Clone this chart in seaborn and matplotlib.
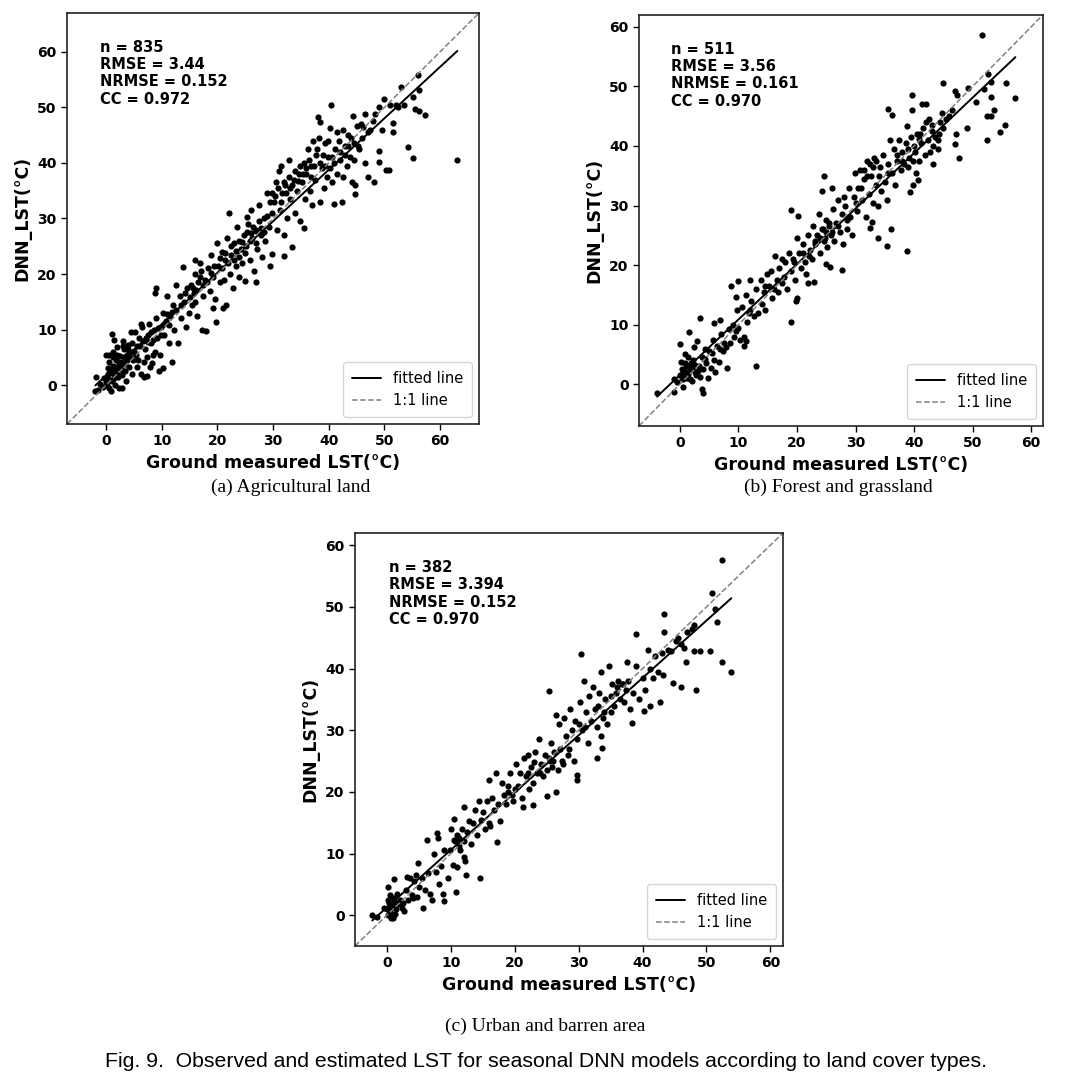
import numpy as np
import seaborn as sns
import matplotlib.pyplot as plt

sns.set_style("ticks")
plt.rcParams["font.family"] = ["DejaVu Sans"]
plt.rcParams.update({"text.color": "black", "axes.labelcolor": "black",
                     "xtick.color": "black", "ytick.color": "black"})

# (ground measured, DNN estimated), one list per land cover
agri_pts = [
    (-1.5, -0.8), (-1.0, 0.2), (-0.5, -0.3), (0.0, 0.5), (0.2, 1.5), (0.5, -0.5), (0.8, 2.5), (1.0, 0.8),
    (1.2, 3.5), (1.5, 1.2), (1.8, 4.5), (0.3, 3.0), (-0.3, 1.2), (0.6, 4.2), (1.3, 5.0), (1.9, 2.0),
    (0.9, -1.0), (1.6, 0.0), (0.0, 5.5), (-1.8, 1.5), (1.0, 9.2), (1.5, 8.2), (-1.9, -1.0), (0.5, 5.5),
    (2.2, 3.0), (2.5, 5.2), (2.8, 1.8), (3.0, 4.0), (3.3, 6.5), (3.5, 2.5), (3.8, 5.5), (4.0, 7.2),
    (4.2, 3.2), (4.5, 9.5), (4.8, 6.0), (2.4, -0.5), (2.8, -0.5), (3.1, 8.0), (4.6, 2.0), (2.0, 6.8),
    (3.6, 0.8), (4.9, 4.5), (5.2, 9.5), (5.5, 7.0), (5.8, 4.5), (6.0, 8.5), (6.3, 2.0), (6.5, 10.5),
    (6.8, 1.5), (7.0, 6.5), (7.3, 5.0), (7.5, 9.0), (7.8, 11.0), (8.0, 7.5), (8.3, 4.0), (8.6, 10.0),
    (8.8, 6.0), (9.0, 12.0), (9.2, 8.5), (9.5, 2.5), (9.7, 5.5), (9.9, 10.5), (9.0, 17.5), (8.8, 16.5),
    (7.4, 1.7), (6.2, 11.0), (5.6, 3.2), (10.2, 13.0), (10.5, 9.0), (10.8, 11.5), (11.0, 16.0), (11.3, 7.5),
    (11.5, 12.5), (11.8, 4.1), (12.0, 14.5), (12.3, 10.0), (12.6, 13.5), (12.9, 7.6), (13.2, 16.0), (13.5, 12.0),
    (13.8, 21.3), (14.0, 15.0), (14.3, 10.5), (14.6, 17.5), (14.9, 13.0), (10.3, 3.0), (12.5, 18.0), (15.2, 18.0),
    (15.5, 14.5), (15.8, 16.5), (16.0, 20.0), (16.3, 12.5), (16.6, 18.5), (16.9, 22.0), (17.2, 10.0), (17.5, 16.0),
    (17.8, 19.0), (18.0, 9.8), (18.3, 21.0), (18.6, 17.0), (18.9, 23.5), (19.2, 19.5), (19.5, 15.5), (19.7, 11.3),
    (19.3, 13.8), (19.9, 25.5), (15.9, 22.5), (20.2, 21.5), (20.5, 18.5), (20.8, 24.0), (21.0, 13.8), (21.3, 22.5),
    (21.5, 14.5), (21.8, 26.5), (22.0, 31.0), (22.2, 20.0), (22.5, 23.5), (22.8, 17.5), (23.0, 25.5), (23.3, 21.5),
    (23.6, 28.5), (23.9, 19.5), (24.2, 24.5), (24.5, 22.0), (24.8, 27.0), (24.9, 18.8), (21.2, 19.0), (23.8, 23.0),
    (25.2, 25.0), (25.5, 29.0), (25.8, 22.5), (26.0, 31.5), (26.3, 26.5), (26.6, 20.5), (26.9, 28.0), (27.2, 24.5),
    (27.5, 32.5), (27.8, 27.0), (28.0, 23.0), (28.3, 30.0), (28.6, 26.0), (28.9, 34.5), (29.2, 28.5), (29.5, 21.5),
    (29.8, 31.0), (29.9, 23.6), (27.0, 18.5), (25.3, 30.2), (30.2, 33.0), (30.5, 36.5), (30.8, 28.0), (31.0, 38.5),
    (31.3, 31.5), (31.6, 34.5), (31.9, 27.0), (32.0, 23.2), (32.2, 36.0), (32.5, 30.0), (32.8, 40.5), (33.1, 33.5),
    (33.4, 24.8), (33.7, 37.0), (34.0, 31.0), (34.3, 35.0), (34.6, 38.0), (34.9, 29.5), (35.5, 28.2), (31.5, 39.5),
    (33.0, 35.5), (35.2, 36.5), (35.5, 40.0), (35.8, 33.5), (36.0, 38.0), (36.3, 42.5), (36.6, 35.0), (36.9, 39.5),
    (37.2, 44.0), (37.5, 37.0), (37.8, 41.5), (38.0, 48.3), (38.4, 47.3), (38.5, 33.0), (38.8, 39.0), (39.1, 35.5),
    (39.4, 43.5), (39.7, 37.5), (39.9, 41.0), (38.2, 44.5), (37.0, 32.5), (40.2, 39.0), (40.4, 50.4), (40.3, 46.2),
    (40.6, 36.5), (40.9, 32.6), (41.2, 42.5), (41.5, 38.0), (41.8, 44.0), (42.1, 40.5), (42.3, 33.0), (42.6, 37.5),
    (42.9, 43.0), (43.2, 39.5), (43.5, 45.0), (43.8, 41.0), (44.1, 36.5), (44.3, 48.4), (44.8, 34.4), (44.8, 36.0),
    (44.6, 43.5), (45.0, 46.6), (45.5, 42.5), (46.0, 44.5), (46.5, 48.8), (46.5, 40.0), (47.0, 37.4), (47.5, 46.0),
    (48.2, 36.5), (48.4, 48.8), (49.0, 42.1), (49.0, 40.2), (49.0, 50.0), (49.5, 46.0), (50.0, 51.5), (50.3, 38.7),
    (50.8, 38.7), (51.6, 47.2), (51.6, 45.5), (52.9, 53.7), (52.0, 50.5), (53.6, 50.5), (54.3, 42.9), (55.2, 40.9),
    (55.5, 49.7), (55.2, 51.8), (56.2, 53.1), (56.0, 55.8), (56.2, 49.4), (57.3, 48.7), (63.1, 40.6),
    (0.2, 0.0), (0.7, 1.0), (1.1, 2.2), (1.4, 2.8), (1.7, 3.2), (2.1, 1.5), (2.3, 4.2), (2.6, 3.5),
    (2.9, 2.8), (3.2, 5.0), (3.4, 3.8), (3.7, 4.6), (4.1, 5.8), (4.4, 4.8), (4.7, 7.5), (0.4, 2.0),
    (1.2, 6.0), (2.0, 5.5), (3.0, 7.0), (4.0, 6.5), (5.1, 6.2), (5.4, 5.5), (6.1, 7.0), (6.6, 8.0),
    (7.1, 8.5), (7.6, 7.8), (8.1, 9.5), (8.5, 8.2), (9.3, 10.2), (9.8, 9.0), (10.4, 11.0), (10.9, 12.8),
    (11.4, 10.8), (11.9, 13.2), (6.9, 4.2), (8.4, 5.5), (7.9, 3.2), (13.4, 14.5), (14.2, 16.5), (15.0, 15.8),
    (15.6, 17.5), (16.2, 17.2), (16.8, 19.5), (17.4, 18.0), (18.1, 18.5), (18.8, 20.2), (19.4, 21.5), (17.0, 20.5),
    (16.0, 15.0), (20.4, 22.8), (20.9, 21.0), (21.4, 23.8), (21.9, 22.0), (22.4, 25.0), (22.9, 22.5), (23.4, 24.2),
    (23.9, 26.0), (24.4, 25.8), (24.9, 23.8), (25.4, 27.5), (25.9, 26.0), (26.4, 28.5), (26.9, 25.5), (27.4, 29.5),
    (27.9, 28.2), (28.4, 27.5), (28.9, 30.5), (29.4, 33.0), (29.9, 34.5), (26.0, 27.3), (27.0, 27.8), (30.4, 34.0),
    (30.9, 35.5), (31.4, 33.0), (31.9, 36.5), (32.4, 34.5), (32.9, 37.5), (33.4, 36.0), (33.9, 38.5), (34.4, 36.8),
    (34.9, 39.5), (35.4, 38.0), (35.9, 39.0), (36.4, 40.5), (36.9, 37.5), (37.4, 39.5), (37.9, 42.5), (38.4, 40.0),
    (38.9, 41.5), (39.4, 39.5), (39.9, 44.0), (40.5, 41.0), (41.0, 40.0), (41.5, 45.5), (42.0, 42.0), (42.5, 46.0),
    (43.0, 41.5), (43.5, 43.0), (44.0, 44.5), (44.5, 40.5), (45.2, 43.0), (45.8, 47.0), (46.2, 46.5), (47.0, 45.5),
    (48.0, 47.5), (52.5, 50.0), (51.0, 50.5),
]

forest_pts = [
    (51.6, 58.6), (57.3, 48.0), (55.7, 50.6), (55.6, 43.5), (54.6, 42.3), (53.2, 45.0), (53.7, 46.0), (52.5, 41.0),
    (52.4, 45.0), (53.1, 48.2), (53.1, 50.7), (52.6, 52.0), (52.0, 49.5), (50.6, 47.3), (49.1, 43.0), (49.2, 49.8),
    (47.6, 38.0), (47.4, 48.5), (47.0, 49.3), (47.2, 42.0), (46.9, 40.3), (45.0, 50.6), (44.7, 45.6), (43.3, 37.0),
    (42.5, 44.5), (42.0, 47.0), (41.3, 47.0), (40.9, 41.2), (40.6, 34.3), (40.3, 35.5), (39.8, 33.5), (39.3, 32.2),
    (38.7, 22.3), (39.6, 48.5), (39.7, 46.0), (38.8, 43.3), (36.2, 45.2), (35.6, 46.2), (35.4, 23.2), (36.1, 26.0),
    (33.9, 24.5), (32.8, 27.2), (32.5, 26.3), (27.6, 19.2), (25.0, 20.2), (25.6, 19.7), (22.9, 17.2), (18.9, 10.5),
    (13.0, 3.1), (12.0, 17.5), (10.0, 17.4), (8.8, 16.5), (9.5, 14.7), (3.4, 11.2), (5.9, 10.2), (6.9, 10.8),
    (1.6, 8.8), (-3.9, -1.4), (-1.0, -1.3), (4.0, -1.5), (3.8, -0.8), (0.0, 6.7), (20.0, 14.5), (19.9, 14.0),
    (19.0, 29.2), (20.1, 28.2), (24.6, 35.0), (24.3, 32.5), (21.8, 17.0), (26.0, 33.0),
    (-0.5, 0.3), (0.0, 1.5), (0.3, 2.5), (0.5, 0.8), (0.8, 3.5), (1.0, 2.0), (1.2, 1.0), (1.5, 3.0),
    (1.8, 2.4), (2.0, 0.5), (2.2, 4.0), (2.5, 2.0), (0.2, 3.8), (0.6, -0.5), (1.4, 4.5), (-1.0, 0.8),
    (2.8, 1.5), (2.4, 6.3), (2.9, 7.2), (0.9, 5.0), (3.2, 3.0), (3.5, 1.2), (3.8, 4.5), (4.0, 2.5),
    (4.2, 6.0), (4.5, 3.5), (4.8, 1.0), (5.0, 5.5), (5.3, 2.8), (5.6, 7.5), (5.8, 4.0), (6.0, 2.0),
    (6.3, 6.5), (6.6, 3.8), (7.0, 8.5), (7.3, 5.5), (7.6, 7.0), (8.0, 2.7), (8.3, 9.2), (7.8, 6.2),
    (8.6, 7.0), (9.0, 10.0), (9.3, 8.0), (9.7, 12.5), (10.0, 9.5), (10.3, 7.5), (10.6, 13.0), (11.0, 6.5),
    (11.3, 15.0), (11.5, 10.5), (11.8, 12.0), (12.2, 14.0), (12.6, 11.5), (13.0, 16.0), (13.4, 12.0), (13.8, 17.5),
    (14.0, 13.5), (14.3, 15.5), (14.6, 12.5), (14.9, 18.5), (11.0, 8.0), (11.2, 7.2), (15.2, 16.5), (15.5, 19.0),
    (15.8, 14.5), (16.2, 21.5), (16.5, 17.5), (16.8, 15.5), (17.0, 19.5), (17.4, 21.0), (17.7, 18.0), (18.0, 20.5),
    (18.3, 16.0), (18.6, 22.0), (19.0, 19.0), (19.3, 21.0), (19.6, 17.5), (20.0, 24.5), (20.4, 22.0), (20.7, 19.5),
    (21.0, 23.5), (21.3, 20.5), (21.6, 18.5), (21.9, 25.0), (22.2, 22.5), (22.5, 21.0), (22.8, 26.5), (23.1, 23.5),
    (23.4, 25.0), (23.7, 28.5), (24.0, 22.0), (24.3, 26.0), (24.6, 24.0), (24.9, 27.5), (25.2, 23.0), (25.5, 26.5),
    (25.8, 25.0), (26.1, 29.5), (26.4, 24.0), (26.7, 27.0), (27.0, 31.0), (27.3, 25.5), (27.6, 28.5), (27.9, 23.5),
    (28.2, 30.0), (28.5, 26.0), (28.8, 33.0), (29.1, 28.0), (29.4, 25.0), (29.7, 31.5), (29.9, 35.5), (28.0, 31.5),
    (30.2, 29.0), (30.5, 33.0), (30.8, 36.0), (31.1, 31.0), (31.4, 34.5), (31.7, 28.0), (32.0, 37.5), (32.3, 32.0),
    (32.6, 35.0), (32.9, 30.5), (33.2, 38.0), (33.5, 33.5), (33.8, 30.0), (34.1, 36.5), (34.4, 32.5), (34.7, 38.5),
    (35.0, 34.0), (35.3, 31.0), (35.6, 37.0), (35.9, 41.0), (36.2, 35.5), (36.5, 39.5), (36.8, 33.5), (37.1, 37.5),
    (37.4, 41.0), (37.7, 36.0), (38.0, 39.0), (38.3, 37.0), (38.6, 40.5), (38.9, 36.5), (39.2, 38.0), (39.5, 41.5),
    (39.8, 37.5), (40.2, 39.0), (40.5, 42.0), (40.8, 37.5), (41.2, 40.5), (41.5, 43.0), (41.8, 38.5), (42.1, 44.0),
    (42.4, 41.0), (42.7, 39.0), (43.0, 42.5), (43.3, 40.0), (43.6, 41.5), (44.0, 39.5), (44.3, 42.0), (45.0, 43.0),
    (45.5, 44.5), (46.0, 45.0), (46.5, 46.0),
    (0.3, 1.0), (0.7, 2.2), (1.1, 3.2), (1.3, 1.8), (1.7, 0.8), (2.1, 2.8), (2.6, 3.2), (0.5, 2.0),
    (1.0, 1.5), (1.9, 3.6), (3.0, 2.2), (4.3, 4.2), (5.5, 5.2), (6.8, 6.0), (9.5, 9.0), (12.0, 12.5),
    (14.5, 16.5), (16.0, 16.0), (17.5, 17.0), (19.5, 20.5), (21.0, 22.0), (22.0, 21.5), (23.0, 24.0), (24.0, 24.5),
    (24.5, 26.0), (25.0, 25.5), (24.8, 24.5), (25.5, 27.0), (26.0, 25.5), (27.0, 26.5), (28.5, 27.5), (30.0, 30.5),
    (31.0, 33.0), (31.5, 36.0), (32.0, 35.0), (32.5, 37.0), (33.0, 36.5), (33.5, 37.5), (34.0, 35.0), (35.5, 35.5),
    (37.0, 38.5), (38.0, 37.5), (39.0, 39.5), (40.0, 40.0), (41.0, 42.0), (43.0, 43.5), (44.0, 41.0), (44.5, 44.0),
]

urban_pts = [
    (52.5, 57.6), (50.8, 52.3), (51.3, 49.6), (51.6, 47.6), (53.9, 39.5), (52.4, 41.0), (50.6, 42.8), (49.0, 42.8),
    (48.0, 42.8), (48.3, 36.5), (47.7, 46.5), (48.0, 47.0), (46.8, 41.0), (46.5, 43.3), (46.0, 37.0), (45.3, 44.5),
    (44.7, 37.6), (43.4, 48.9), (43.4, 46.0), (42.7, 34.5), (43.2, 39.0), (41.2, 34.0), (40.3, 33.2), (39.0, 45.6),
    (38.4, 31.2), (37.5, 41.0), (30.4, 42.3), (25.3, 36.4), (32.8, 25.5), (33.6, 27.1), (33.5, 29.1), (29.7, 22.0),
    (29.7, 22.8), (26.5, 20.0), (25.0, 19.4), (22.8, 17.8), (21.3, 17.5), (17.3, 11.8), (14.5, 6.1), (12.3, 6.5),
    (10.8, 3.8), (9.0, 2.3), (7.0, 2.4), (5.6, 1.2), (-2.3, 0.0), (-1.5, -0.3), (0.6, -0.4), (2.7, 0.6),
    (1.1, 5.8), (0.2, 4.5), (6.2, 12.2), (7.8, 13.4), (8.0, 12.5), (4.9, 8.5), (10.5, 15.6), (12.0, 17.6),
    (0.0, 1.0), (0.3, 2.0), (0.5, 0.5), (0.8, 1.5), (1.0, 2.8), (1.2, 0.2), (1.5, 3.5), (1.8, 1.8),
    (2.0, 2.5), (-0.5, 1.2), (0.9, -0.2), (0.4, 3.2), (2.3, 1.2), (1.4, 1.0), (3.0, 4.0), (3.3, 2.5),
    (3.6, 6.0), (3.9, 3.2), (4.2, 5.5), (4.5, 6.5), (4.0, 2.8), (5.0, 4.5), (4.7, 3.0), (3.2, 6.2),
    (5.5, 6.0), (5.9, 4.0), (6.5, 6.8), (6.8, 3.5), (7.3, 10.0), (7.6, 7.0), (8.2, 5.0), (8.5, 8.0),
    (9.0, 10.5), (9.5, 6.0), (9.8, 10.5), (10.0, 14.0), (10.3, 8.2), (10.6, 12.0), (10.9, 7.8), (11.2, 12.5),
    (11.5, 10.5), (11.8, 14.0), (12.0, 9.5), (11.3, 11.2), (10.5, 12.2), (12.2, 8.8), (8.8, 3.5), (12.5, 13.5),
    (12.8, 15.2), (13.2, 11.5), (13.5, 15.0), (13.8, 17.0), (14.1, 13.0), (14.4, 18.5), (14.7, 15.5), (15.0, 16.8),
    (15.3, 14.0), (15.6, 18.5), (15.9, 15.0), (16.2, 14.5), (16.5, 19.0), (16.8, 17.0), (17.1, 23.0), (17.4, 18.0),
    (17.7, 15.3), (18.0, 21.5), (18.3, 19.5), (18.6, 18.0), (18.9, 21.0), (19.2, 23.0), (19.5, 19.5), (19.8, 18.5),
    (16.0, 22.0), (20.2, 24.5), (20.5, 21.0), (20.8, 23.0), (21.1, 19.0), (21.4, 25.5), (21.7, 22.5), (22.0, 26.0),
    (22.3, 20.5), (22.6, 24.0), (22.9, 21.5), (23.2, 26.5), (23.5, 23.0), (23.8, 28.5), (24.1, 24.5), (24.4, 22.5),
    (24.7, 26.0), (25.0, 23.5), (25.3, 25.5), (25.6, 28.0), (25.9, 24.0), (26.2, 26.5), (26.5, 32.5), (26.8, 23.5),
    (27.1, 27.0), (27.4, 25.0), (27.7, 32.0), (28.0, 29.0), (28.3, 26.0), (28.6, 33.5), (28.9, 30.0), (29.2, 25.0),
    (29.5, 31.5), (29.8, 28.5), (27.0, 31.0), (30.2, 34.5), (30.5, 30.0), (30.8, 38.0), (31.1, 33.0), (31.4, 28.0),
    (31.7, 35.5), (32.0, 31.5), (32.3, 37.0), (32.6, 33.5), (32.9, 30.5), (33.2, 36.0), (33.5, 39.5), (33.8, 32.0),
    (34.1, 35.0), (34.4, 31.0), (34.7, 40.5), (35.0, 33.0), (35.3, 37.5), (35.6, 34.0), (35.9, 36.0), (36.2, 38.0),
    (36.5, 35.0), (36.8, 37.5), (37.1, 34.5), (37.4, 36.5), (37.8, 38.0), (38.1, 33.5), (38.5, 36.0), (39.0, 40.5),
    (39.5, 35.0), (40.0, 38.5), (40.4, 36.5), (40.8, 43.0), (41.2, 40.0), (41.6, 38.5), (42.0, 42.0), (42.5, 39.5),
    (43.0, 42.5), (44.0, 43.0), (44.5, 42.8), (45.5, 45.0), (46.0, 44.0), (47.0, 46.0),
    (0.1, 0.0), (0.6, 1.2), (1.3, 2.2), (1.0, -0.5), (0.2, 2.5), (2.5, 2.0), (11.0, 13.0), (12.0, 12.0),
    (19.0, 20.0), (20.0, 20.5), (22.0, 23.0), (23.0, 24.8), (24.0, 23.0), (25.5, 25.0), (26.0, 25.0), (27.5, 24.5),
    (28.5, 27.0), (30.0, 31.0), (31.0, 30.5), (33.0, 34.0), (34.0, 33.0), (35.0, 35.5), (36.0, 37.0), (37.0, 37.5),
]

stats_text = [
    "n = 835\nRMSE = 3.44\nNRMSE = 0.152\nCC = 0.972",
    "n = 511\nRMSE = 3.56\nNRMSE = 0.161\nCC = 0.970",
    "n = 382\nRMSE = 3.394\nNRMSE = 0.152\nCC = 0.970",
]
captions = ["(a) Agricultural land", "(b) Forest and grassland", "(c) Urban and barren area"]
axis_limits = [(-7, 67), (-7, 62), (-5, 62)]

fig = plt.figure(figsize=(10.9, 10.8), dpi=100)
boxes = [
    [0.0615, 0.6074, 0.378, 0.3806],
    [0.5862, 0.6056, 0.3706, 0.3806],
    [0.3257, 0.1241, 0.3927, 0.3824],
]
cap_pos = [(0.267, 0.549), (0.769, 0.549), (0.500, 0.050)]

for pts, txt, cap, lims, box, cp in zip(
        [agri_pts, forest_pts, urban_pts], stats_text, captions, axis_limits, boxes, cap_pos):
    ax = fig.add_axes(box)
    obs, est = np.array(pts).T
    sns.regplot(x=obs, y=est, ax=ax, ci=None,
                scatter_kws=dict(s=20, color="black", linewidths=0, alpha=1),
                line_kws=dict(color="black", lw=1.4, label="fitted line"))
    ax.plot(lims, lims, ls="--", color="grey", lw=1.1, label="1:1 line")
    ax.set_xlim(lims)
    ax.set_ylim(lims)
    ax.set_xticks(range(0, 61, 10))
    ax.set_yticks(range(0, 61, 10))
    ax.tick_params(labelsize=10, length=4, width=1)
    for lbl in ax.get_xticklabels() + ax.get_yticklabels():
        lbl.set_fontweight("bold")
    for sp in ax.spines.values():
        sp.set_visible(True)
        sp.set_linewidth(1.2)
        sp.set_color("#222222")
    ax.set_xlabel("Ground measured LST(°C)", fontsize=12.5, fontweight="bold", labelpad=4)
    ax.set_ylabel("DNN_LST(°C)", fontsize=12.5, fontweight="bold", labelpad=4)
    ax.text(0.08, 0.935, txt, transform=ax.transAxes, va="top", ha="left",
            fontsize=10.5, fontweight="bold", linespacing=1.2)
    ax.legend(loc="lower right", fontsize=10.5, frameon=True, borderpad=0.6)
    fig.text(cp[0], cp[1], cap, ha="center", va="center",
             fontsize=14, family=["Liberation Serif"])

fig.text(0.501, 0.017, "Fig. 9.  Observed and estimated LST for seasonal DNN models according to land cover types.",
         ha="center", va="center", fontsize=15.3, family=["Liberation Sans"])

fig.savefig("out.png", dpi=100)
